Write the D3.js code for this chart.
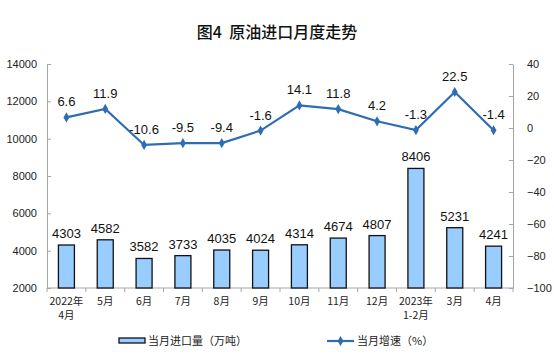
<!DOCTYPE html>
<html><head><meta charset="utf-8">
<script src="https://cdn.jsdelivr.net/npm/d3@7"></script>
<style>body{margin:0;background:#fff}svg{display:block}</style>
</head><body>
<script>
const categories = [["2022年","4月"],["5月"],["6月"],["7月"],["8月"],["9月"],["10月"],["11月"],["12月"],["2023年","1-2月"],["3月"],["4月"]];
const imports = [4303,4582,3582,3733,4035,4024,4314,4674,4807,8406,5231,4241];
const growth = [6.6,11.9,-10.6,-9.5,-9.4,-1.6,14.1,11.8,4.2,-1.3,22.5,-1.4];
const leftTicks = [2000,4000,6000,8000,10000,12000,14000];
const rightTicks = [-100,-80,-60,-40,-20,0,20,40];
const title = "图4  原油进口月度走势";
const legendBar = "当月进口量（万吨）";
const legendLine = "当月增速（%）";

const W=554,H=357, L=47, R=513, T=64, B=288;
const svg=d3.select("body").append("svg").attr("width",W).attr("height",H);
const cjk="'Noto Sans CJK SC','Noto Sans',sans-serif";
const num="'Liberation Sans',Arial,sans-serif";

svg.append("text").attr("x",277).attr("y",38).attr("text-anchor","middle").style("white-space","pre")
  .attr("font-family",cjk).attr("font-size",16).attr("font-weight",500).attr("fill","#111").text(title);

const x=d3.scaleBand().domain(d3.range(categories.length)).range([L,R]);
const yL=d3.scaleLinear().domain([2000,14000]).range([B,T]);
const yR=d3.scaleLinear().domain([-100,40]).range([B,T]);
const axCol="#a6a6a6";

// left axis
const gl=svg.append("g").attr("transform",`translate(${L},0)`)
  .call(d3.axisLeft(yL).tickValues(leftTicks).tickSizeInner(-4).tickSizeOuter(0).tickPadding(10).tickFormat(d3.format("d")));
gl.select(".domain").attr("stroke",axCol);
gl.selectAll(".tick line").attr("stroke",axCol);
gl.selectAll("text").attr("font-family",num).attr("font-size",11).attr("fill","#222");

// right axis
const gr=svg.append("g").attr("transform",`translate(${R},0)`)
  .call(d3.axisRight(yR).tickValues(rightTicks).tickSizeInner(-4).tickSizeOuter(0).tickPadding(14));
gr.select(".domain").attr("stroke",axCol);
gr.selectAll(".tick line").attr("stroke",axCol);
gr.selectAll("text").attr("font-family",num).attr("font-size",11).attr("fill","#222");

// x axis
svg.append("line").attr("x1",L).attr("x2",R).attr("y1",B).attr("y2",B).attr("stroke",axCol);
svg.selectAll(".xt").data(d3.range(categories.length+1)).join("line")
  .attr("x1",i=>L+i*x.step()).attr("x2",i=>L+i*x.step()).attr("y1",B).attr("y2",B+4).attr("stroke",axCol);
const xl=svg.selectAll(".xl").data(categories).join("text")
  .attr("text-anchor","middle").attr("font-family",cjk).attr("font-size",10.5).attr("fill","#222");
xl.each(function(d,i){
  const t=d3.select(this);
  d.forEach((s,j)=>t.append("tspan").attr("x",x(i)+x.bandwidth()/2).attr("y",B+17+j*14).text(s));
});

// bars
const bw=16;
svg.selectAll(".bar").data(imports).join("rect")
  .attr("x",(d,i)=>x(i)+x.bandwidth()/2-bw/2).attr("width",bw)
  .attr("y",d=>yL(d)).attr("height",d=>B-yL(d))
  .attr("fill","#99ccff").attr("stroke","#111").attr("stroke-width",1.3);
svg.selectAll(".bl").data(imports).join("text")
  .attr("x",(d,i)=>x(i)+x.bandwidth()/2).attr("y",d=>yL(d)-7)
  .attr("text-anchor","middle").attr("font-family",num).attr("font-size",13).attr("fill","#111").text(d=>d);

// line
const lc="#2e6db4";
const line=d3.line().x((d,i)=>x(i)+x.bandwidth()/2).y(d=>yR(d));
svg.append("path").datum(growth).attr("d",line).attr("fill","none").attr("stroke",lc).attr("stroke-width",2.2);
const sym=d3.symbol().type(d3.symbolDiamond).size(30);
svg.selectAll(".pt").data(growth).join("path").attr("d",sym)
  .attr("transform",(d,i)=>`translate(${x(i)+x.bandwidth()/2},${yR(d)})`).attr("fill",lc);
svg.selectAll(".ll").data(growth).join("text")
  .attr("x",(d,i)=>x(i)+x.bandwidth()/2).attr("y",d=>yR(d)-11)
  .attr("text-anchor","middle").attr("font-family",num).attr("font-size",13).attr("fill","#111").text(d=>d.toFixed(1));

// legend
svg.append("rect").attr("x",119).attr("y",338).attr("width",26).attr("height",5)
  .attr("fill","#99ccff").attr("stroke","#111").attr("stroke-width",1.3);
svg.append("text").attr("x",148).attr("y",345).attr("font-family",cjk).attr("font-size",11).attr("fill","#222").text(legendBar);
svg.append("line").attr("x1",327).attr("x2",354).attr("y1",341).attr("y2",341).attr("stroke",lc).attr("stroke-width",2.2);
svg.append("path").attr("d",sym).attr("transform","translate(340.5,341)").attr("fill",lc);
svg.append("text").attr("x",357).attr("y",345).attr("font-family",cjk).attr("font-size",11).attr("fill","#222").text(legendLine);
</script>
</body></html>
